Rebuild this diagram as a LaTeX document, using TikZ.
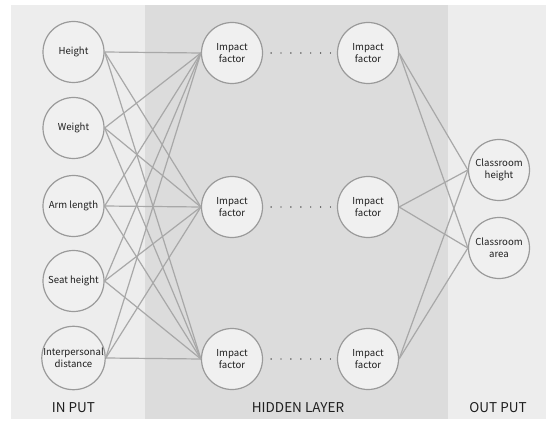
\documentclass[tikz,border=0pt]{standalone}
\usepackage{fontspec}
\setmainfont{Noto Sans CJK SC}
\definecolor{panelL}{HTML}{EDEDED}
\definecolor{panelM}{HTML}{DCDCDC}
\definecolor{circfill}{HTML}{F0F0F0}
\definecolor{circline}{HTML}{9A9A9A}
\definecolor{edgecol}{HTML}{A8A8A8}
\definecolor{txt}{HTML}{1E1E1E}
\tikzset{
  neuron/.style={circle, draw=circline, line width=1.2pt, fill=circfill, minimum size=61pt, inner sep=0pt,
    align=center, text=txt, font=\fontsize{9.6}{12}\selectfont},
  conn/.style={draw=edgecol, line width=1.2pt},
  layerlabel/.style={text=txt, font=\fontsize{13.5}{15}\selectfont},
  dotrow/.style={draw=txt, line width=1.4pt, line cap=round, dash pattern=on 0pt off 9.9pt}
}
\begin{document}
\begin{tikzpicture}[x=1pt,y=1pt]
\useasboundingbox (0,0) rectangle (546,421);
\fill[white] (0,0) rectangle (546,421);
\fill[panelL] (11,2) rectangle (145,416);
\fill[panelM] (145,2) rectangle (448,416);
\fill[panelL] (448,2) rectangle (546,416);

% input layer
\node[neuron] (i1) at (73.5,369) {Height};
\node[neuron] (i2) at (73.5,293) {Weight};
\node[neuron] (i3) at (73.5,215) {Arm length};
\node[neuron] (i4) at (73.5,140) {Seat height};
\node[neuron] (i5) at (73.5,63) {Interpersonal\\distance};

% hidden layer
\node[neuron] (a1) at (232,368) {Impact\\factor};
\node[neuron] (a2) at (232,214) {Impact\\factor};
\node[neuron] (a3) at (232,62) {Impact\\factor};
\node[neuron] (b1) at (368,368) {Impact\\factor};
\node[neuron] (b2) at (368,214) {Impact\\factor};
\node[neuron] (b3) at (368,62) {Impact\\factor};

% output layer
\node[neuron] (o1) at (499,251) {Classroom\\height};
\node[neuron] (o2) at (499,173) {Classroom\\area};

% connections input -> hidden
\foreach \i in {1,...,5}{
  \foreach \j in {1,2,3}{
    \draw[conn] (i\i.east) -- (a\j.west);
  }
}
% hidden -> output
\foreach \j in {1,2,3}{
  \foreach \k in {1,2}{
    \draw[conn] (b\j.east) -- (o\k.west);
  }
}
% dotted rows
\foreach \j in {1,2,3}{
  \draw[dotrow] ([xshift=8pt]a\j.east) -- ([xshift=-5.5pt]b\j.west);
}

% labels
\node[layerlabel] (l1) at (73.5,13) {IN PUT};
\node[layerlabel] (l2) at (298,13) {HIDDEN LAYER};
\node[layerlabel] (l3) at (498,13) {OUT PUT};
\end{tikzpicture}
\end{document}
